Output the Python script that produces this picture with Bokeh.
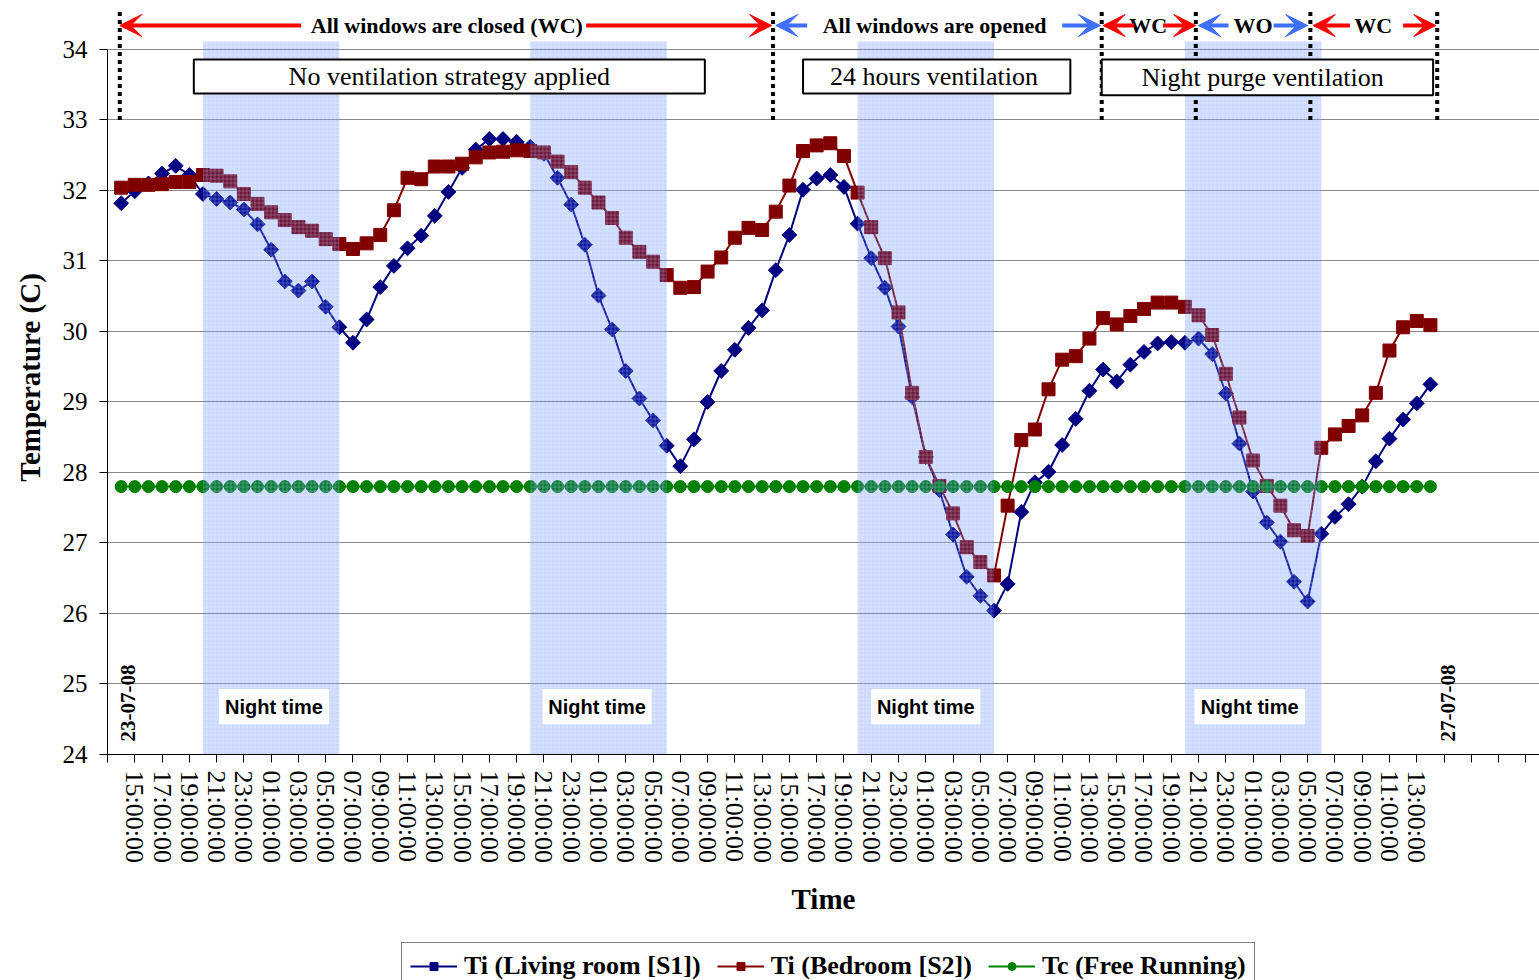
import math
from bokeh.plotting import figure
from bokeh.layouts import column
from bokeh.models import (FixedTicker, Range1d, Arrow, VeeHead, Legend, LegendItem)
from bokeh.core.properties import value
from bokeh.embed import file_html
from bokeh.resources import INLINE

# ---------------- data (hourly, 23-07-08 14:00 -> 27-07-08 14:00) ----------------
living_room = [31.82, 31.99, 32.10, 32.24, 32.35, 32.22, 31.95, 31.88, 31.83, 31.73,
               31.52, 31.16, 30.71, 30.58, 30.71, 30.35, 30.06, 29.84, 30.17, 30.63,
               30.93, 31.18, 31.36, 31.64, 31.98, 32.32, 32.58, 32.73, 32.73, 32.69,
               32.62, 32.52, 32.18, 31.80, 31.23, 30.51, 30.03, 29.44, 29.05, 28.74,
               28.38, 28.09, 28.47, 29.00, 29.44, 29.74, 30.05, 30.30, 30.87, 31.37,
               32.01, 32.17, 32.22, 32.05, 31.53, 31.04, 30.62, 30.07, 29.07, 28.22,
               27.75, 27.12, 26.52, 26.25, 26.04, 26.42, 27.44, 27.86, 28.01, 28.39,
               28.76, 29.16, 29.46, 29.29, 29.53, 29.71, 29.83, 29.85, 29.84, 29.90,
               29.68, 29.12, 28.41, 27.73, 27.29, 27.02, 26.45, 26.17, 27.13, 27.37,
               27.55, 27.80, 28.16, 28.48, 28.75, 28.98, 29.25]
bedroom = [32.04, 32.08, 32.08, 32.09, 32.12, 32.12, 32.22, 32.21, 32.13, 31.95,
           31.81, 31.69, 31.58, 31.48, 31.43, 31.31, 31.24, 31.17, 31.25, 31.37,
           31.72, 32.18, 32.16, 32.34, 32.34, 32.38, 32.47, 32.54, 32.55, 32.57,
           32.56, 32.54, 32.41, 32.26, 32.04, 31.83, 31.61, 31.33, 31.13, 30.99,
           30.80, 30.62, 30.63, 30.85, 31.05, 31.33, 31.47, 31.44, 31.70, 32.07,
           32.56, 32.64, 32.67, 32.49, 31.97, 31.48, 31.04, 30.27, 29.13, 28.22,
           27.81, 27.42, 26.94, 26.73, 26.54, 27.53, 28.46, 28.61, 29.18, 29.60,
           29.65, 29.90, 30.19, 30.10, 30.22, 30.32, 30.41, 30.41, 30.35, 30.23,
           29.95, 29.40, 28.78, 28.17, 27.81, 27.53, 27.18, 27.10, 28.35, 28.54,
           28.66, 28.81, 29.13, 29.73, 30.06, 30.15, 30.09]
free_running = [27.8] * 97
hour_pos = list(range(1, 98))          # category slot of each hourly reading

tick_pos = list(range(0, 106, 2))
tick_labels = [f"{(13 + t) % 24:02d}:00:00" if 2 <= t <= 96 else "" for t in tick_pos]

night_start = [7, 31, 55, 79]
night_end = [17, 41, 65, 89]
night_label_left = [8.17, 31.9, 56.0, 79.7]
night_label_right = [16.24, 39.9, 64.0, 87.8]

phase_bounds = [0.9, 48.8, 72.9, 79.8, 88.2, 97.5]
strategy_names = ["No ventilation strategy applied", "24 hours ventilation", "Night purge ventilation"]
strategy_left = [6.33, 51.0, 72.9]
strategy_right = [43.8, 70.6, 97.2]

SERIF = "Liberation Serif"
BLUE, RED, GREEN = "#000080", "#800000", "#008000"
YTOP = 34.695

# ---------------- main figure ----------------
p = figure(width=1539, height=930, output_backend="svg", toolbar_location=None,
           x_range=Range1d(0, 105.0), y_range=Range1d(24, YTOP),
           min_border_left=107, min_border_right=0, min_border_top=0, min_border_bottom=176)
p.outline_line_color = None
p.background_fill_color = "white"
p.border_fill_color = "white"

xa = p.xaxis[0]
xa.ticker = FixedTicker(ticks=tick_pos)
xa.major_label_overrides = {t: lab for t, lab in zip(tick_pos, tick_labels)}
xa.major_label_orientation = "vertical"
xa.major_label_text_font = SERIF
xa.major_label_text_font_size = "26px"
xa.major_label_text_color = "black"
xa.major_tick_out = 8
xa.major_tick_in = 0
xa.minor_tick_out = 0
xa.minor_tick_in = 0
xa.major_label_standoff = 8
xa.axis_line_color = "black"
xa.major_tick_line_color = "black"
xa.axis_label = "Time"
xa.axis_label_text_font = SERIF
xa.axis_label_text_font_style = "bold"
xa.axis_label_text_font_size = "29px"
xa.axis_label_text_color = "black"
xa.axis_label_standoff = 17

ya = p.yaxis[0]
ya.bounds = (24, 34)
ya.ticker = FixedTicker(ticks=list(range(24, 35)))
ya.major_label_text_font = SERIF
ya.major_label_text_font_size = "25px"
ya.major_label_text_color = "black"
ya.major_tick_out = 8
ya.major_tick_in = 0
ya.minor_tick_out = 0
ya.minor_tick_in = 0
ya.major_label_standoff = 12
ya.axis_line_color = "black"
ya.major_tick_line_color = "black"
ya.axis_label = "Temperature (C)"
ya.axis_label_text_font = SERIF
ya.axis_label_text_font_style = "bold"
ya.axis_label_text_font_size = "29px"
ya.axis_label_text_color = "black"
ya.axis_label_standoff = 14

p.xgrid.visible = False
p.ygrid.ticker = FixedTicker(ticks=list(range(24, 35)))
p.ygrid.grid_line_color = "#8a8a8a"
p.ygrid.grid_line_width = 1

# ---------------- series ----------------
l1 = p.line(hour_pos, living_room, line_color=BLUE, line_width=2)
s1 = p.scatter(hour_pos, living_room, marker="square", angle=math.pi / 4, size=10.5,
               fill_color=BLUE, line_color=BLUE)
l2 = p.line(hour_pos, bedroom, line_color=RED, line_width=2)
s2 = p.scatter(hour_pos, bedroom, marker="square", size=13, fill_color=RED, line_color=RED)
l3 = p.line(hour_pos, free_running, line_color=GREEN, line_width=2)
s3 = p.scatter(hour_pos, free_running, marker="circle", size=12, fill_color=GREEN, line_color=GREEN)

# ---------------- night shading (overlay) ----------------
p.quad(left=night_start, right=night_end, bottom=23.9, top=34.113,
       fill_color="#3366ff", fill_alpha=0.25, line_color=None,
       hatch_pattern="+", hatch_color="white", hatch_alpha=0.2, hatch_scale=4, hatch_weight=1)

# night-time labels
p.quad(left=night_label_left, right=night_label_right, bottom=24.43, top=24.93,
       fill_color="white", line_color=None)
p.text(x=[(a + b) / 2 for a, b in zip(night_label_left, night_label_right)], y=[24.68] * 4,
       text=["Night time"] * 4, text_font=value("Liberation Sans"), text_font_style="bold",
       text_font_size="20px", text_align="center", text_baseline="middle", text_color="black")

# date labels
p.text(x=[1.5, 98.3], y=[24.73, 24.73], text=["23-07-08", "27-07-08"], angle=math.pi / 2,
       text_font=value(SERIF), text_font_style="bold", text_font_size="21px",
       text_align="center", text_baseline="middle", text_color="black")

# phase boundaries (dotted)
p.segment(x0=phase_bounds, y0=33.0, x1=phase_bounds, y1=YTOP - 0.12,
          line_color="black", line_width=4, line_dash="4 4")

# strategy boxes
p.quad(left=strategy_left, right=strategy_right, bottom=[33.376, 33.376, 33.35],
       top=[33.858, 33.858, 33.858], fill_color="white", line_color="black", line_width=2)
p.text(x=[25.06, 60.6, 84.7], y=[33.617, 33.617, 33.605], text=strategy_names,
       text_font=value(SERIF), text_font_size="26px", text_align="center",
       text_baseline="middle", text_color="black")

# top window-state annotations
AY = 34.34
p.text(x=[24.88, 60.65, 76.3, 84.0, 92.8], y=[AY] * 5,
       text=["All windows are closed (WC)", "All windows are opened", "WC", "WO", "WC"],
       text_font=value(SERIF), text_font_style="bold", text_font_size="22px",
       text_align="center", text_baseline="middle", text_color="black")

ARED, ABLUE = "#ff0000", "#3f6fff"
arrows = [(14.2, 0.9, ARED), (35.1, 48.7, ARED), (51.3, 49.0, ABLUE), (70.0, 72.8, ABLUE),
          (75.3, 73.0, ARED), (77.4, 79.8, ARED), (82.2, 80.0, ABLUE), (85.5, 88.0, ABLUE),
          (91.1, 88.4, ARED), (95.0, 97.4, ARED)]
for xs, xe, c in arrows:
    p.add_layout(Arrow(x_start=xs, y_start=AY, x_end=xe, y_end=AY, line_color=c, line_width=4,
                       end=VeeHead(size=22, fill_color=c, line_color=c, line_width=1)))

# ---------------- legend strip (separate canvas so it is not clipped) ----------------
q = figure(width=1539, height=50, output_backend="svg", toolbar_location=None,
           x_range=Range1d(0, 1), y_range=Range1d(0, 1), min_border=0)
q.axis.visible = False
q.grid.visible = False
q.outline_line_color = None
q.background_fill_color = "white"
q.border_fill_color = "white"
# proxies share the same data but lie outside this strip's view
g1 = q.line(hour_pos, living_room, line_color=BLUE, line_width=2)
h1 = q.scatter(hour_pos, living_room, marker="square", angle=math.pi / 4, size=10.5,
               fill_color=BLUE, line_color=BLUE)
g2 = q.line(hour_pos, bedroom, line_color=RED, line_width=2)
h2 = q.scatter(hour_pos, bedroom, marker="square", size=13, fill_color=RED, line_color=RED)
g3 = q.line(hour_pos, free_running, line_color=GREEN, line_width=2)
h3 = q.scatter(hour_pos, free_running, marker="circle", size=12, fill_color=GREEN, line_color=GREEN)

legend = Legend(items=[LegendItem(label="Ti (Living room [S1])", renderers=[g1, h1]),
                       LegendItem(label="Ti (Bedroom [S2])", renderers=[g2, h2]),
                       LegendItem(label="Tc (Free Running)", renderers=[g3, h3])],
                orientation="horizontal", location=(294, -10),
                label_text_font=SERIF, label_text_font_size="26px", label_text_font_style="bold",
                label_text_color="black",
                glyph_width=47, glyph_height=20, label_standoff=7, spacing=16, padding=8,
                border_line_color="black", border_line_width=1, background_fill_alpha=1,
                margin=0)
q.add_layout(legend)

layout = column(p, q, spacing=0)
open("out.html", "w").write(file_html(layout, INLINE))
